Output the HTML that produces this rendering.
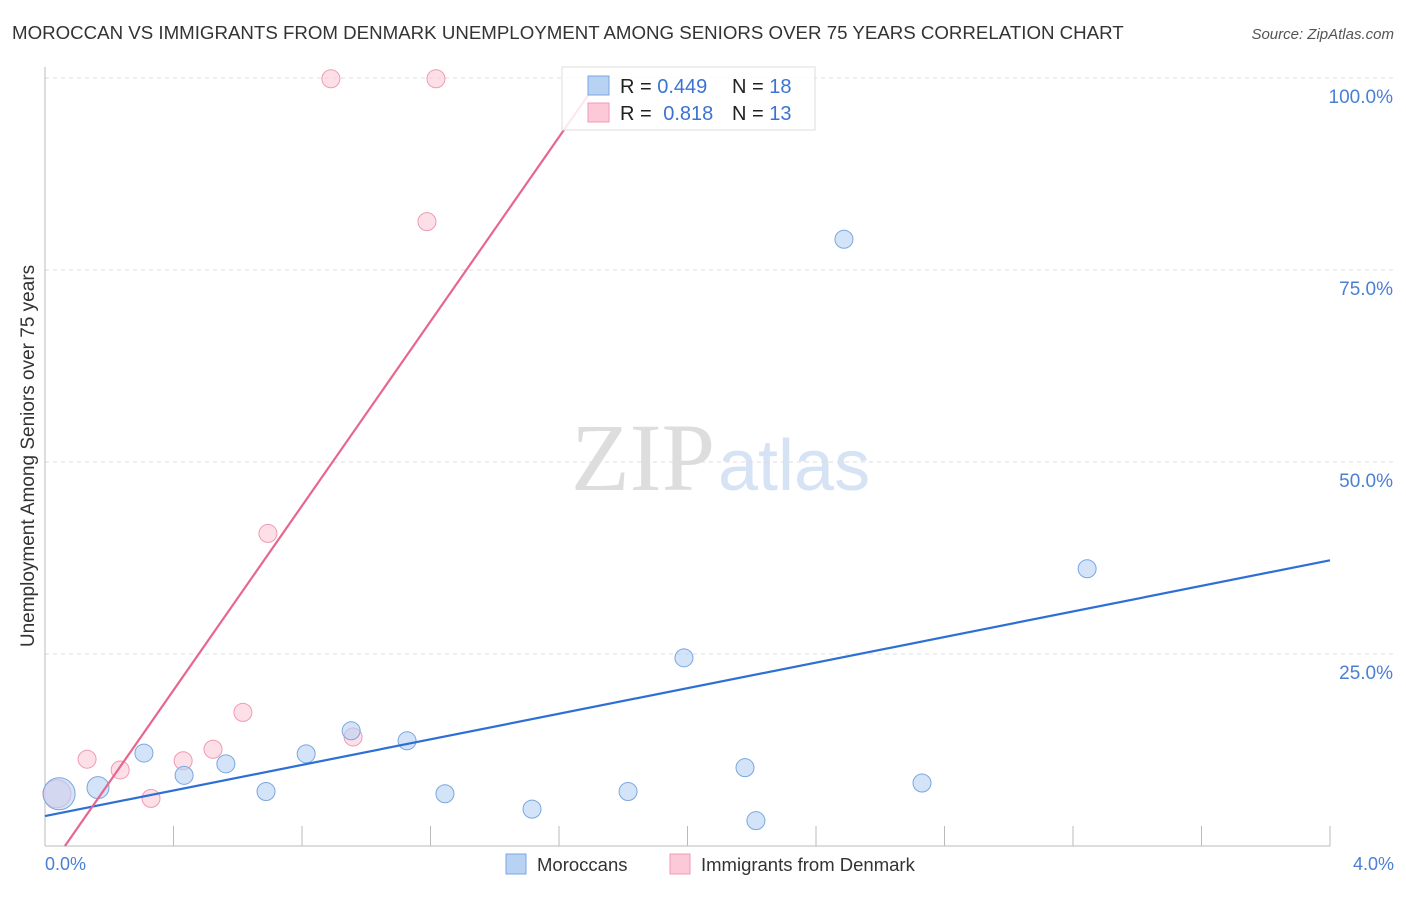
<!DOCTYPE html>
<html><head><meta charset="utf-8"><style>
body{margin:0;background:#fff;font-family:"Liberation Sans",sans-serif;}
svg text{font-family:"Liberation Sans",sans-serif;}
</style></head><body>
<svg width="1406" height="892" viewBox="0 0 1406 892" xmlns="http://www.w3.org/2000/svg">
<text x="12" y="39" font-size="18.7" fill="#333">MOROCCAN VS IMMIGRANTS FROM DENMARK UNEMPLOYMENT AMONG SENIORS OVER 75 YEARS CORRELATION CHART</text>
<text x="1394" y="39" font-size="15" fill="#555" font-style="italic" text-anchor="end">Source: ZipAtlas.com</text>
<text x="715" y="490" font-size="96" fill="#ddd" text-anchor="end" style="font-family:'Liberation Serif',serif">ZIP</text>
<text x="718" y="490" font-size="72" fill="#d6e3f5">atlas</text>
<g id="grid"></g>
<g id="axes"></g>
<g id="marks"></g>
<text transform="translate(34,456) rotate(-90)" font-size="19" fill="#333" text-anchor="middle">Unemployment Among Seniors over 75 years</text>
<text x="45" y="870" font-size="18" fill="#4a7fd4">0.0%</text>
<text x="1394" y="870" font-size="18" fill="#4a7fd4" text-anchor="end">4.0%</text>
<g>
<rect x="562" y="67" width="253" height="63" fill="#fff" fill-opacity="0.85" stroke="#ddd"/>
<rect x="588" y="76" width="21" height="19" fill="#b8d2f3" stroke="#7aa6e0"/>
<rect x="588" y="103" width="21" height="19" fill="#fbc9d8" stroke="#f09ab4"/>
<text x="620" y="93" font-size="20" fill="#222">R = <tspan fill="#3a74d0">0.449</tspan></text>
<text x="732" y="93" font-size="20" fill="#222">N = <tspan fill="#3a74d0">18</tspan></text>
<text x="620" y="120" font-size="20" fill="#222">R = <tspan fill="#3a74d0" dx="6">0.818</tspan></text>
<text x="732" y="120" font-size="20" fill="#222">N = <tspan fill="#3a74d0">13</tspan></text>
</g>
<g>
<rect x="506" y="854" width="20" height="20" fill="#b8d2f3" stroke="#7aa6e0"/>
<text x="537" y="871" font-size="18.5" fill="#333">Moroccans</text>
<rect x="670" y="854" width="20" height="20" fill="#fbc9d8" stroke="#f09ab4"/>
<text x="701" y="871" font-size="18.5" fill="#333">Immigrants from Denmark</text>
</g>
</svg>
<script>
const yTicks=[25,50,75,100];
const yTickLabels=["25.0%","50.0%","75.0%","100.0%"];
const xTicks=[0,0.4,0.8,1.2,1.6,2.0,2.4,2.8,3.2,3.6,4.0];
const moroccanX=[0.044,0.165,0.308,0.433,0.563,0.688,0.813,0.953,1.127,1.245,1.516,1.815,1.989,2.179,2.213,2.487,2.730,3.244];
const moroccanY=[6.8,7.6,12.1,9.2,10.7,7.1,12.0,15.0,13.7,6.8,4.8,7.1,24.5,10.2,3.3,79.0,8.2,36.1];
const moroccanR=[16,11,9,9,9,9,9,9,9,9,9,9,9,9,9,9,9,9];
const denmarkX=[0.037,0.131,0.234,0.330,0.430,0.523,0.616,0.694,0.890,0.959,1.189,1.217];
const denmarkY=[6.8,11.3,9.9,6.2,11.1,12.6,17.4,40.7,99.9,14.2,81.3,99.9];
const denmarkR=[14,9,9,9,9,9,9,9,9,9,9,9];
const moroccanLine=[[0,3.9],[4,37.2]];
const denmarkLine=[[0.062,0],[1.728,100]];
const X=v=>45+v/4*1285, Y=v=>846-v/25*192;
const NS="http://www.w3.org/2000/svg";
function mk(p,t,a){const e=document.createElementNS(NS,t);for(const k in a)e.setAttribute(k,a[k]);p.appendChild(e);return e;}
const grid=document.getElementById('grid'),axes=document.getElementById('axes'),marks=document.getElementById('marks');
yTicks.forEach((t,i)=>{
 const l=mk(grid,'line',{x1:45,x2:1394,y1:Y(t),y2:Y(t),stroke:'#ddd','stroke-dasharray':'4,4'});
 
 
 const tx=mk(grid,'text',{x:1393,y:Y(t)+25,'font-size':19,fill:'#4a7fd4','text-anchor':'end'});tx.textContent=yTickLabels[i];
 
 
});
const ya=mk(axes,'line',{x1:45,x2:45,y1:67,y2:846,stroke:'#bbb'});


const xa=mk(axes,'line',{x1:45,x2:1330,y1:846,y2:846,stroke:'#bbb'});


xTicks.forEach(t=>{const l=mk(axes,'line',{x1:X(t),x2:X(t),y1:826,y2:846,stroke:'#bbb'});
 
 });
denmarkX.forEach((x,i)=>{const c=mk(marks,'circle',{cx:X(x),cy:Y(denmarkY[i]),r:denmarkR[i],fill:'#fbc9d8','fill-opacity':0.6,stroke:'#f09ab4'});
 
 });
moroccanX.forEach((x,i)=>{const c=mk(marks,'circle',{cx:X(x),cy:Y(moroccanY[i]),r:moroccanR[i],fill:'#b8d2f3','fill-opacity':0.6,stroke:'#7aa6e0'});
 
 });
const bl=mk(marks,'line',{x1:X(moroccanLine[0][0]),y1:Y(moroccanLine[0][1]),x2:X(moroccanLine[1][0]),y2:Y(moroccanLine[1][1]),stroke:'#2e6fd6','stroke-width':2.2});


const pl=mk(marks,'line',{x1:X(denmarkLine[0][0]),y1:Y(denmarkLine[0][1]),x2:X(denmarkLine[1][0]),y2:Y(denmarkLine[1][1]),stroke:'#e8668e','stroke-width':2.2});


</script>
</body></html>
